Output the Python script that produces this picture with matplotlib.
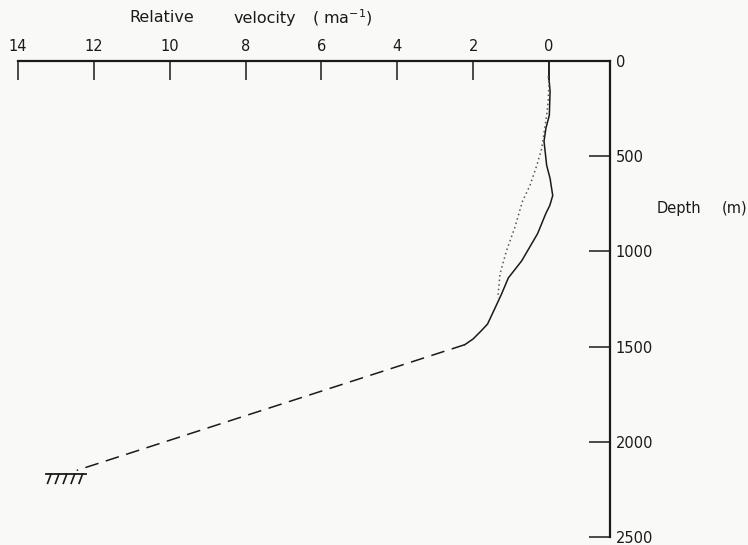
import numpy as np
import matplotlib
matplotlib.use('Agg')
import matplotlib.pyplot as plt

# measured profile (solid), relative velocity in m/a vs depth in m
solid_vel = [0.0, 0.0, -0.03, -0.01, 0.08, 0.13, 0.06, -0.03, -0.10, -0.02, 0.08, 0.30, 0.72, 1.07, 1.25, 1.42, 1.62, 1.80, 2.00, 2.22]
solid_depth = [0, 90, 160, 285, 353, 422, 548, 617, 707, 760, 800, 907, 1050, 1139, 1224, 1297, 1382, 1420, 1460, 1490]

# second profile (dotted)
dot_vel = [0.02, 0.0, 0.02, 0.06, 0.19, 0.32, 0.50, 0.70, 0.90, 1.12, 1.29, 1.35]
dot_depth = [80, 120, 211, 285, 459, 548, 654, 738, 875, 997, 1118, 1245]

# extrapolation to the bed (dashed)
dash_vel = [2.22, 12.45]
dash_depth = [1490, 2150]

# bed symbol
bed_vel = [13.25, 12.2]
bed_depth = 2170

vel_ticks = [14, 12, 10, 8, 6, 4, 2, 0]
depth_ticks = [0, 500, 1000, 1500, 2000, 2500]

ink = '#1a1a1a'
bg = '#f9f9f7'

fig = plt.figure(figsize=(7.48, 5.45), dpi=100, facecolor=bg)
ax = fig.add_axes([18 / 748, 1 - 537 / 545, (610 - 18) / 748, (537 - 61) / 545])
ax.set_facecolor(bg)

ax.plot(solid_vel, solid_depth, color=ink, lw=1.1)
ax.plot(dot_vel, dot_depth, color='#555555', lw=1.1, linestyle=(0, (1, 2)))
ax.plot(dash_vel, dash_depth, color=ink, lw=1.1, linestyle=(0, (9, 5)), clip_on=False)

# bed hatch
ax.plot(bed_vel, [bed_depth, bed_depth], color=ink, lw=1.3, clip_on=False)
for v in np.linspace(bed_vel[0] - 0.12, bed_vel[1] + 0.1, 5):
    ax.plot([v, v + 0.09], [bed_depth, bed_depth + 48], color=ink, lw=1.2, clip_on=False)

ax.set_xlim(14, -1.61)
ax.set_ylim(2500, 0)

for s in ['left', 'bottom']:
    ax.spines[s].set_visible(False)
for s in ['top', 'right']:
    ax.spines[s].set_linewidth(1.6)
    ax.spines[s].set_color(ink)

ax.xaxis.tick_top()
ax.set_xticks(vel_ticks)
ax.set_xticklabels([str(t) for t in vel_ticks])
ax.tick_params(axis='x', direction='in', length=14, width=1.1, pad=5, labelsize=10.5, colors=ink)

ax.yaxis.tick_right()
ax.set_yticks(depth_ticks)
ax.set_yticklabels([str(t) for t in depth_ticks])
ax.tick_params(axis='y', direction='in', length=15, width=1.1, pad=4, labelsize=10.5, colors=ink)

# axis titles, words spaced out as in the original lettering
ty = 1 - 18 / 545
fig.text(162 / 748, ty, 'Relative', ha='center', va='center', fontsize=11.5, color=ink)
fig.text(265 / 748, ty, 'velocity', ha='center', va='center', fontsize=11.5, color=ink)
fig.text(342 / 748, ty, '( ma$^{-1}$)', ha='center', va='center', fontsize=11.5, color=ink)

dy = 1 - 208 / 545
fig.text(657 / 748, dy, 'Depth', ha='left', va='center', fontsize=10.5, color=ink)
fig.text(747 / 748, dy, '(m)', ha='right', va='center', fontsize=10.5, color=ink)

fig.savefig('out.png', dpi=100, facecolor=bg)
